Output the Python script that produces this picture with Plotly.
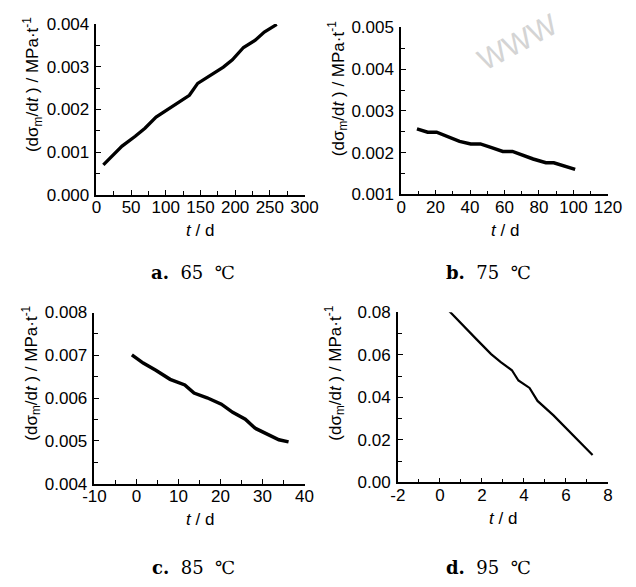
import plotly.graph_objects as go

# ---- data ----
t_a = [10, 37, 56, 70, 86, 100, 118, 134, 146, 164, 183, 196, 212, 229, 242, 260]
v_a = [0.00070, 0.00114, 0.00137, 0.00156, 0.00182, 0.00197, 0.00216, 0.00233,
       0.00261, 0.00280, 0.00299, 0.00316, 0.00345, 0.00362, 0.00381, 0.00399]

t_b = [9.2, 15.4, 20.6, 26.5, 33.9, 40.4, 46.0, 52.5, 59.0, 64.6, 71.0, 76.6, 84.0, 88.6, 101.0]
v_b = [0.00257, 0.00249, 0.00249, 0.00239, 0.00227, 0.00221, 0.00221, 0.00212,
       0.00203, 0.00203, 0.00193, 0.00185, 0.00176, 0.00176, 0.00160]

t_c = [-1.1, 1.6, 4.6, 8.0, 11.5, 13.7, 16.8, 20.2, 22.9, 25.9, 28.2, 31.2, 33.9, 36.2]
v_c = [0.00701, 0.00682, 0.00665, 0.00644, 0.00631, 0.00612, 0.00601, 0.00586,
       0.00567, 0.00551, 0.00530, 0.00515, 0.00503, 0.00498]

t_d = [0.27, 1.0, 1.76, 2.44, 2.9, 3.43, 3.74, 4.27, 4.65, 5.41, 6.33, 7.27]
v_d = [0.0823, 0.0747, 0.0671, 0.0603, 0.0565, 0.0527, 0.0479, 0.0444, 0.0383,
       0.0315, 0.0224, 0.0129]

# tick values / labels
xt_a = [0, 50, 100, 150, 200, 250, 300]
xl_a = ["0", "50", "100", "150", "200", "250", "300"]
yt_a = [0, 0.001, 0.002, 0.003, 0.004]
yl_a = ["0.000", "0.001", "0.002", "0.003", "0.004"]

xt_b = [0, 20, 40, 60, 80, 100, 120]
xl_b = ["0", "20", "40", "60", "80", "100", "120"]
yt_b = [0.001, 0.002, 0.003, 0.004, 0.005]
yl_b = ["0.001", "0.002", "0.003", "0.004", "0.005"]

xt_c = [-10, 0, 10, 20, 30, 40]
xl_c = ["-10", "0", "10", "20", "30", "40"]
yt_c = [0.004, 0.005, 0.006, 0.007, 0.008]
yl_c = ["0.004", "0.005", "0.006", "0.007", "0.008"]

xt_d = [-2, 0, 2, 4, 6, 8]
xl_d = ["-2", "0", "2", "4", "6", "8"]
yt_d = [0, 0.02, 0.04, 0.06, 0.08]
yl_d = ["0.00", "0.02", "0.04", "0.06", "0.08"]

captions = ["<b>a.</b>  65  ℃", "<b>b.</b>  75  ℃", "<b>c.</b>  85  ℃", "<b>d.</b>  95  ℃"]
ytitle = "(dσ<sub>m</sub>/d<i>t</i> ) / MPa·t<sup>-1</sup>"
xtitle = "<i>t</i> / d"

W, H = 636, 587

panels = [
    (t_a, v_a, [0, 300], xt_a, xl_a, 25, [0, 0.004], yt_a, yl_a, 0.0005, (88, 305, 15.5, 192), 3.3),
    (t_b, v_b, [0, 120], xt_b, xl_b, 10, [0.001, 0.005], yt_b, yl_b, 0.0005, (405.7, 621.3, 19, 191.7), 3.5),
    (t_c, v_c, [-10, 40], xt_c, xl_c, 5, [0.004, 0.008], yt_c, yl_c, 0.0005, (86, 305, 313.7, 490.7), 3.5),
    (t_d, v_d, [-2, 8], xt_d, xl_d, 1, [0, 0.08], yt_d, yl_d, 0.01, (402.3, 621.3, 313.3, 489.3), 2.2),
]

fig = go.Figure()
FONT = "Liberation Sans, Arial, sans-serif"
tickfont = dict(family=FONT, size=17, color="black")
annotations = []

for i, (xs, ys, xr, xtv, xtl, xmin, yr, ytv, ytl, ymin, box, lw) in enumerate(panels):
    n = "" if i == 0 else str(i + 1)
    x0, x1, yt, yb = box
    xdom = [x0 / W, x1 / W]
    ydom = [1 - yb / H, 1 - yt / H]
    fig.add_trace(go.Scatter(x=xs, y=ys, mode="lines",
                             line=dict(color="black", width=lw),
                             xaxis="x" + n, yaxis="y" + n, showlegend=False))
    fig.update_layout(**{
        "xaxis" + n: dict(domain=xdom, range=xr, tickmode="array", tickvals=xtv, ticktext=xtl,
                          anchor="y" + n,
                          showgrid=False, zeroline=False, showline=True,
                          linecolor="black", linewidth=1.5, ticks="inside",
                          ticklen=5, tickwidth=1.3, tickcolor="black",
                          tickfont=tickfont, ticklabelstandoff=-4,
                          minor=dict(ticks="inside", ticklen=4, dtick=xmin, tick0=0,
                                     tickcolor="black", tickwidth=1.3, showgrid=False)),
        "yaxis" + n: dict(domain=ydom, range=yr, tickmode="array", tickvals=ytv, ticktext=ytl,
                          anchor="x" + n,
                          showgrid=False, zeroline=False, showline=True,
                          linecolor="black", linewidth=1.5, ticks="inside",
                          ticklen=5, tickwidth=1.3, tickcolor="black",
                          tickfont=tickfont, ticklabelstandoff=2,
                          minor=dict(ticks="inside", ticklen=4, dtick=ymin, tick0=0,
                                     tickcolor="black", tickwidth=1.3, showgrid=False)),
    })
    annotations.append(dict(text=xtitle, xref="paper", yref="paper",
                            x=(x0 + x1) / 2 / W, y=1 - (yb + 37) / H,
                            showarrow=False, xanchor="center", yanchor="middle",
                            font=dict(family=FONT, size=17, color="black")))
    annotations.append(dict(text=ytitle, xref="paper", yref="paper",
                            x=(x0 - 66) / W, y=1 - (yt + 63) / H, textangle=-90,
                            showarrow=False, xanchor="center", yanchor="middle",
                            font=dict(family=FONT, size=17, color="black")))

cap_pos = [(189, 272), (496.7, 272), (189, 576.7), (496.7, 576.7)]
for cap, (cx, cy) in zip(captions, cap_pos):
    annotations.append(dict(text=cap, xref="paper", yref="paper",
                            x=cx / W, y=1 - cy / H, showarrow=False,
                            xanchor="center", yanchor="middle",
                            font=dict(family="DejaVu Serif, serif", size=18, color="black")))

# faint watermark
annotations.append(dict(text="WWW", xref="paper", yref="paper",
                        x=528 / W, y=1 - 34 / H, showarrow=False, textangle=-28,
                        xanchor="center", yanchor="middle",
                        font=dict(family=FONT, size=30, color="#d4d4d4")))

fig.update_layout(width=W, height=H, margin=dict(l=0, r=0, t=0, b=0),
                  paper_bgcolor="white", plot_bgcolor="white",
                  annotations=annotations)

fig.write_html("out.html")
